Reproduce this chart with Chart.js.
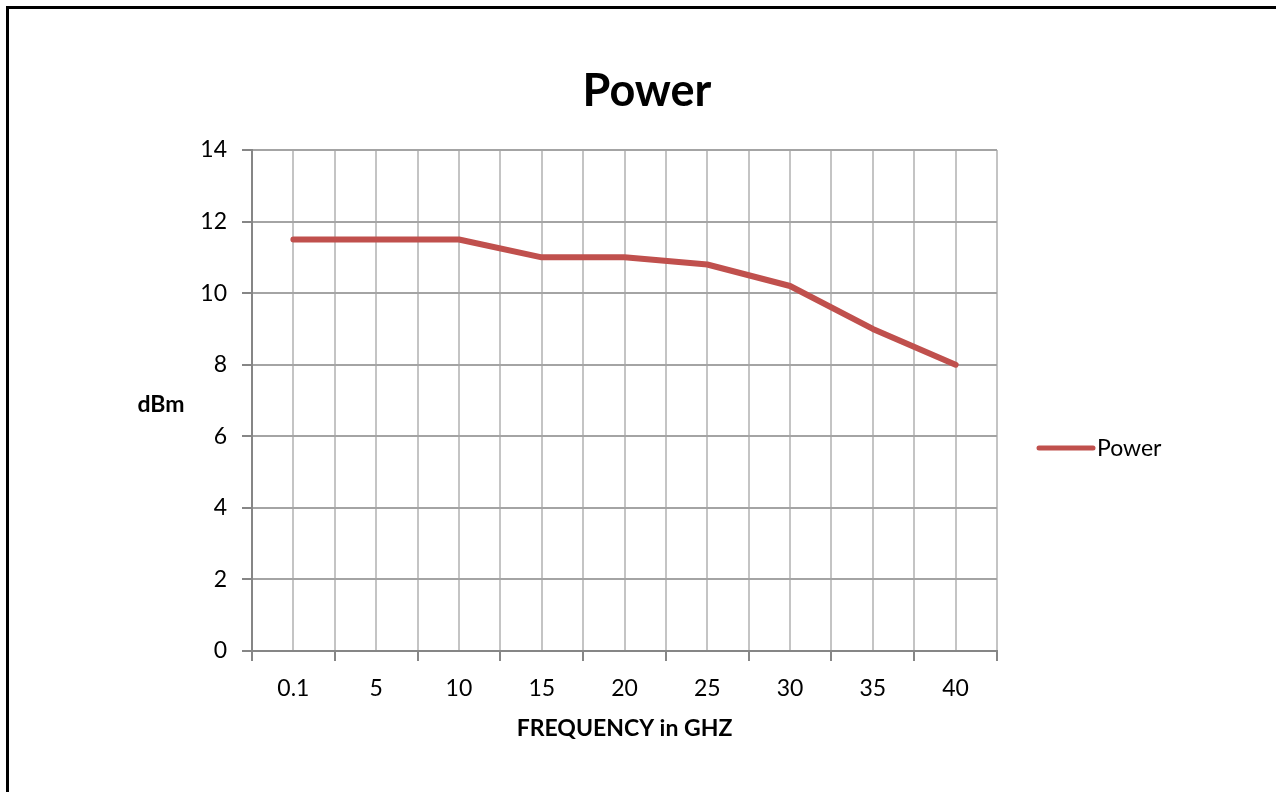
<!DOCTYPE html>
<html>
<head>
<meta charset="utf-8">
<script src="https://cdn.jsdelivr.net/npm/chart.js@4.4.1/dist/chart.umd.min.js"></script>
<style>
html, body { margin: 0; padding: 0; background: #fff; overflow: hidden; }
canvas { display: block; }
</style>
</head>
<body>
<canvas id="myChart" width="1276" height="792"></canvas>
<script>
// datos del grafico
const frecuencias = ['0.1', '5', '10', '15', '20', '25', '30', '35', '40'];
const potencia = [11.5, 11.5, 11.5, 11, 11, 10.8, 10.2, 9, 8];
const ticksY = [0, 2, 4, 6, 8, 10, 12, 14];
const titulo = 'Power';
const nombreSerie = 'Power';
const tituloX = 'FREQUENCY in GHZ';
const tituloY = 'dBm';

const rojo = '#c0504d';
const fuente = 'Lato, "DejaVu Sans", sans-serif';

// marco, titulo, titulo del eje y, leyenda
const extras = {
    id: 'extras',
    beforeDraw(chart) {
        const ctx = chart.ctx;
        ctx.save();
        ctx.fillStyle = '#fff';
        ctx.fillRect(0, 0, chart.width, chart.height);
        ctx.strokeStyle = '#000';
        ctx.lineWidth = 3;
        ctx.strokeRect(7.5, 7.5, chart.width + 20, chart.height + 20);
        ctx.restore();
    },
    afterDraw(chart) {
        const ctx = chart.ctx;
        ctx.save();
        ctx.fillStyle = '#000';
        ctx.textBaseline = 'middle';

        ctx.font = 'bold 45px ' + fuente;
        ctx.textAlign = 'center';
        ctx.fillText(titulo, 647, 91);

        ctx.font = 'bold 23px ' + fuente;
        ctx.fillText(tituloY, 161, 405);

        // leyenda
        const ds = chart.data.datasets[0];
        ctx.strokeStyle = ds.borderColor;
        ctx.lineWidth = 5;
        ctx.lineCap = 'round';
        ctx.beginPath();
        ctx.moveTo(1039, 448);
        ctx.lineTo(1093, 448);
        ctx.stroke();
        ctx.font = '23px ' + fuente;
        ctx.textAlign = 'left';
        ctx.fillText(ds.label, 1097, 449);
        ctx.restore();
    }
};

const contenedor = document.getElementById('myChart').getContext('2d');
window.myCharts = new Chart(contenedor, {
    type: 'line',
    data: {
        labels: frecuencias,
        datasets: [{
            label: nombreSerie,
            data: potencia,
            borderColor: rojo,
            backgroundColor: rojo,
            borderWidth: 6,
            borderCapStyle: 'round',
            borderJoinStyle: 'round',
            pointRadius: 0,
            tension: 0,
            xAxisID: 'x',
            yAxisID: 'y'
        }]
    },
    options: {
        responsive: false,
        animation: false,
        layout: { padding: { left: 0, top: 150, right: 279, bottom: 0 } },
        plugins: {
            legend: { display: false },
            title: { display: false },
            tooltip: { enabled: false }
        },
        scales: {
            x: {
                type: 'category',
                position: 'bottom',
                offset: true,
                weight: 1,
                grid: { offset: true, color: '#c4c4c4', lineWidth: 2, tickLength: 10, tickColor: '#868686', tickWidth: 2 },
                border: { color: '#868686', width: 2 },
                ticks: { color: '#000', padding: 14, font: { family: fuente, size: 23 } },
                title: {
                    display: true,
                    text: tituloX,
                    color: '#000',
                    font: { family: fuente, size: 23, weight: 'bold' },
                    padding: { top: 0, bottom: 50 }
                },
                afterFit(scale) { scale.height = 141; }
            },
            x2: {
                type: 'category',
                position: 'bottom',
                offset: true,
                weight: 0,
                grid: { offset: false, color: '#c4c4c4', lineWidth: 2, drawTicks: false },
                border: { display: false },
                ticks: { display: false },
                afterFit(scale) { scale.height = 0; }
            },
            y: {
                min: ticksY[0],
                max: ticksY[ticksY.length - 1],
                ticks: { stepSize: ticksY[1] - ticksY[0], color: '#000', padding: 15, font: { family: fuente, size: 23 } },
                grid: { color: '#a4a4a4', lineWidth: 2, tickLength: 10, tickColor: '#868686', tickWidth: 2 },
                border: { color: '#868686', width: 2 },
                afterFit(scale) { scale.width = 252; }
            }
        }
    },
    plugins: [extras]
});
</script>
</body>
</html>
